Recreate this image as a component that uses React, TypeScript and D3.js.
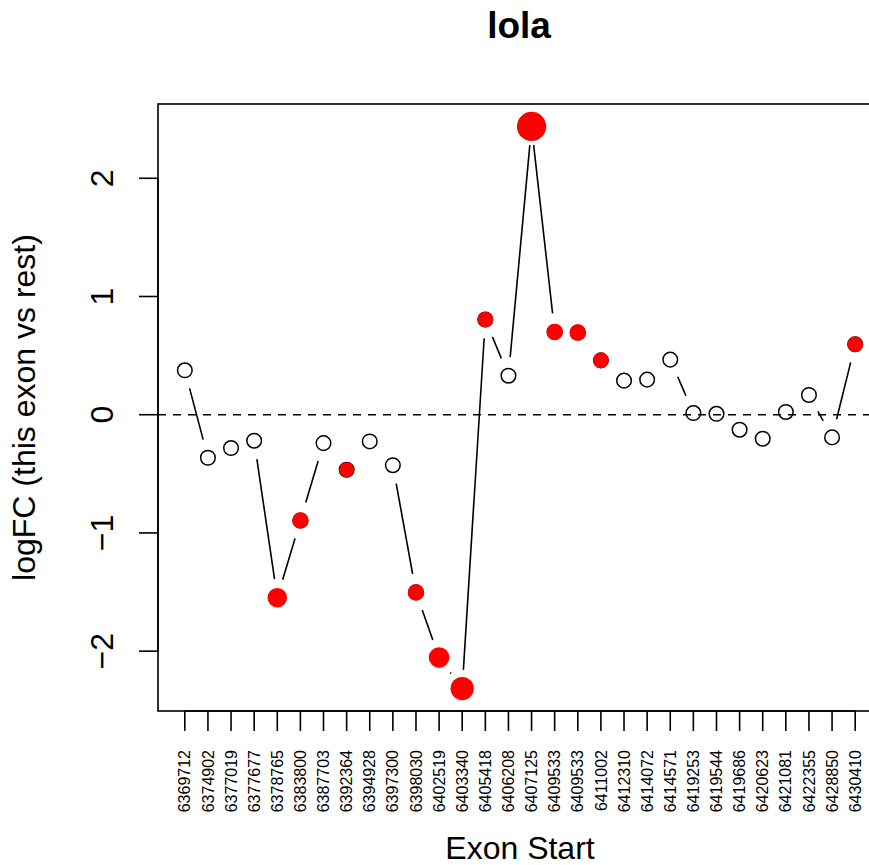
import React from "react";
import * as d3 from "d3";

const exonStarts = [
  "6369712", "6374902", "6377019", "6377677", "6378765", "6383800", "6387703",
  "6392364", "6394928", "6397300", "6398030", "6402519", "6403340", "6405418",
  "6406208", "6407125", "6409533", "6409533", "6411002", "6412310", "6414072",
  "6414571", "6419253", "6419544", "6419686", "6420623", "6421081", "6422355",
  "6428850", "6430410",
];

const logFC = [
  0.376, -0.364, -0.282, -0.22, -1.548, -0.895, -0.24, -0.466, -0.226, -0.427,
  -1.503, -2.054, -2.316, 0.805, 0.33, 2.438, 0.7, 0.695, 0.46, 0.288, 0.297,
  0.466, 0.014, 0.008, -0.127, -0.203, 0.023, 0.167, -0.192, 0.596,
];

// size (cex) of the red significance marker; 0 = not significant
const sigCex = [
  0, 0, 0, 0, 1.3, 1.1, 0, 1.0, 0, 0, 1.1, 1.38, 1.55, 1.05, 0, 1.95, 1.1, 1.1,
  1.05, 0, 0, 0, 0, 0, 0, 0, 0, 0, 0, 1.05,
];

const yTicks = [-2, -1, 0, 1, 2];

const W = 869;
const H = 865;
const left = 158;
const right = 882;
const top = 104;
const bottom = 711;
const FONT = "'Liberation Sans', Arial, Helvetica, sans-serif";

export default function App() {
  const n = logFC.length;
  const idx = d3.range(1, n + 1);
  const xPad = (n - 1) * 0.04;
  const x = d3.scaleLinear().domain([1 - xPad, n + xPad]).range([left, right]);
  const [ymin, ymax] = d3.extent(logFC) as [number, number];
  const yPad = (ymax - ymin) * 0.04;
  const y = d3.scaleLinear().domain([ymin - yPad, ymax + yPad]).range([bottom, top]);

  const pts = idx.map((i, k) => ({ px: x(i), py: y(logFC[k]) }));
  const gap = 18.7;
  const segs: { x1: number; y1: number; x2: number; y2: number }[] = [];
  for (let k = 0; k < n - 1; k++) {
    const a = pts[k];
    const b = pts[k + 1];
    const dx = b.px - a.px;
    const dy = b.py - a.py;
    const d = Math.hypot(dx, dy);
    if (d > 2 * gap) {
      const ux = dx / d;
      const uy = dy / d;
      segs.push({
        x1: a.px + ux * gap,
        y1: a.py + uy * gap,
        x2: b.px - ux * gap,
        y2: b.py - uy * gap,
      });
    }
  }

  const lw = 1.6;
  return (
    <svg
      width={W}
      height={H}
      style={{ position: "absolute", left: 0, top: 0, background: "#fff" }}
      fontFamily={FONT}
    >
      <rect x={0} y={0} width={W} height={H} fill="#fff" />
      {/* title */}
      <text x={519} y={38} textAnchor="middle" fontSize={37} fontWeight="bold">
        lola
      </text>
      {/* zero line */}
      <line
        x1={left}
        x2={right}
        y1={y(0)}
        y2={y(0)}
        stroke="#000"
        strokeWidth={lw}
        strokeDasharray="8,7"
      />
      {/* segments */}
      {segs.map((s, k) => (
        <line key={"s" + k} {...s} stroke="#000" strokeWidth={lw} />
      ))}
      {/* open points */}
      {pts.map((p, k) => (
        <circle key={"o" + k} cx={p.px} cy={p.py} r={7.3} fill="none" stroke="#000" strokeWidth={1.5} />
      ))}
      {/* significant points */}
      {pts.map((p, k) =>
        sigCex[k] > 0 ? (
          <circle key={"r" + k} cx={p.px} cy={p.py} r={7.5 * sigCex[k]} fill="#ff0000" />
        ) : null
      )}
      {/* box */}
      <rect
        x={left}
        y={top}
        width={right - left}
        height={bottom - top}
        fill="none"
        stroke="#000"
        strokeWidth={lw}
      />
      {/* y axis */}
      <line x1={left} x2={left} y1={y(yTicks[0])} y2={y(yTicks[yTicks.length - 1])} stroke="#000" strokeWidth={lw} />
      {yTicks.map((t) => (
        <g key={"yt" + t}>
          <line x1={left - 19} x2={left} y1={y(t)} y2={y(t)} stroke="#000" strokeWidth={lw} />
          <text
            transform={`translate(113,${y(t)}) rotate(-90)`}
            textAnchor="middle"
            fontSize={32}
          >
            {t < 0 ? "\u2212" + Math.abs(t) : String(t)}
          </text>
        </g>
      ))}
      <text
        transform={`translate(35,${(top + bottom) / 2}) rotate(-90)`}
        textAnchor="middle"
        fontSize={32}
      >
        logFC (this exon vs rest)
      </text>
      {/* x axis */}
      <line x1={x(1)} x2={x(n)} y1={bottom} y2={bottom} stroke="#000" strokeWidth={lw} />
      {idx.map((i, k) => (
        <g key={"xt" + i}>
          <line x1={x(i)} x2={x(i)} y1={bottom} y2={bottom + 20} stroke="#000" strokeWidth={lw} />
          <text
            transform={`translate(${x(i)},750) rotate(-90)`}
            textAnchor="end"
            dy="0.35em"
            fontSize={16}
          >
            {exonStarts[k]}
          </text>
        </g>
      ))}
      <text x={(left + right) / 2} y={859} textAnchor="middle" fontSize={32}>
        Exon Start
      </text>
    </svg>
  );
}
